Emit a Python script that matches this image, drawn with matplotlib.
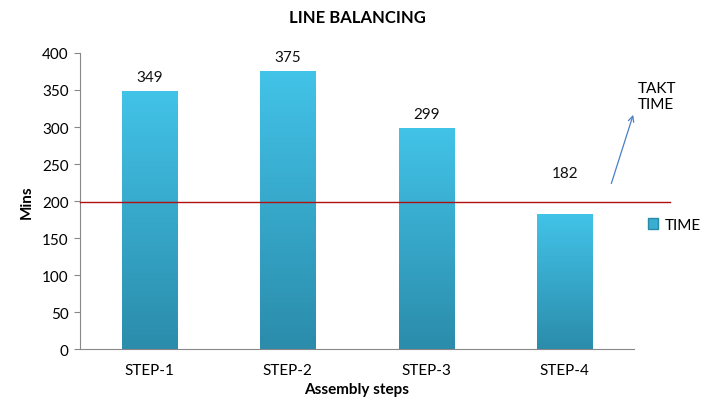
import matplotlib

matplotlib.use("Agg")
import matplotlib.pyplot as plt
import numpy as np
from matplotlib.colors import LinearSegmentedColormap
from matplotlib.patches import Patch

plt.rcParams["font.family"] = ["Lato", "DejaVu Sans"]

# 資料
steps = ["STEP-1", "STEP-2", "STEP-3", "STEP-4"]
times = [349, 375, 299, 182]
takt_time = 198

BAR_TOP = "#42c3e8"
BAR_BOTTOM = "#2b8cab"
grad = LinearSegmentedColormap.from_list("bar", [BAR_BOTTOM, BAR_TOP])

fig = plt.figure(figsize=(7.04, 4.10), dpi=100)
ax = fig.add_axes([0.1136, 0.1463, 0.787, 0.722])

x = np.arange(len(steps))
width = 0.4
bars = ax.bar(x, times, width=width, color=BAR_TOP, edgecolor="#2a8aa8",
              linewidth=0.6, zorder=2, label="TIME")

# 漸層填色
g = np.linspace(0, 1, 256).reshape(-1, 1)
for b in bars:
    x0, y0 = b.get_x(), b.get_y()
    im = ax.imshow(g, cmap=grad, origin="lower", aspect="auto",
                   extent=(x0, x0 + b.get_width(), y0, y0 + b.get_height()),
                   zorder=2.5)
    im.set_clip_path(b)

# 數值標籤（碰到 takt 線就往上移）
for xi, v in zip(x, times):
    y = v + 19
    if abs(y - takt_time) < 20:
        y = takt_time + 40
    ax.text(xi, y, str(v), ha="center", va="center", fontsize=11,
            color="#111111")

ax.set_xlim(-0.5, len(steps) - 0.5)
ax.set_ylim(0, 400)
ax.set_yticks(range(0, 401, 50))
ax.set_xticks(x)
ax.set_xticklabels(steps, fontsize=11)
ax.tick_params(axis="x", length=0, pad=10)
ax.tick_params(axis="y", labelsize=11, length=4, color="#888888", pad=4)
for s in ["top", "right"]:
    ax.spines[s].set_visible(False)
for s in ["left", "bottom"]:
    ax.spines[s].set_color("#888888")

# TAKT TIME 線（延伸到繪圖區外）
ax.plot([-0.5, 3.76], [takt_time, takt_time], color="#b01010", lw=1,
        clip_on=False, zorder=3)
ax.annotate("", xy=(3.5, 320), xytext=(3.33, 220),
            arrowprops=dict(arrowstyle="->", color="#4a7ec8", lw=0.9),
            annotation_clip=False)
ax.text(3.53, 322, "TAKT\nTIME", fontsize=11, ha="left", va="bottom",
        linespacing=1.15)

ax.set_title("LINE BALANCING", fontsize=12, fontweight="bold", pad=22)
ax.set_xlabel("Assembly steps", fontsize=11, fontweight="bold", labelpad=4)
ax.set_ylabel("Mins", fontsize=11, fontweight="bold", labelpad=6)

handle = Patch(facecolor="#38aed1", edgecolor="#2a8aa8")
ax.legend([handle], ["TIME"], loc="center left", bbox_to_anchor=(1.0, 0.42),
          frameon=False, fontsize=11, handlelength=0.7, handleheight=0.7,
          handletextpad=0.4)

fig.savefig("out.png", dpi=100)
